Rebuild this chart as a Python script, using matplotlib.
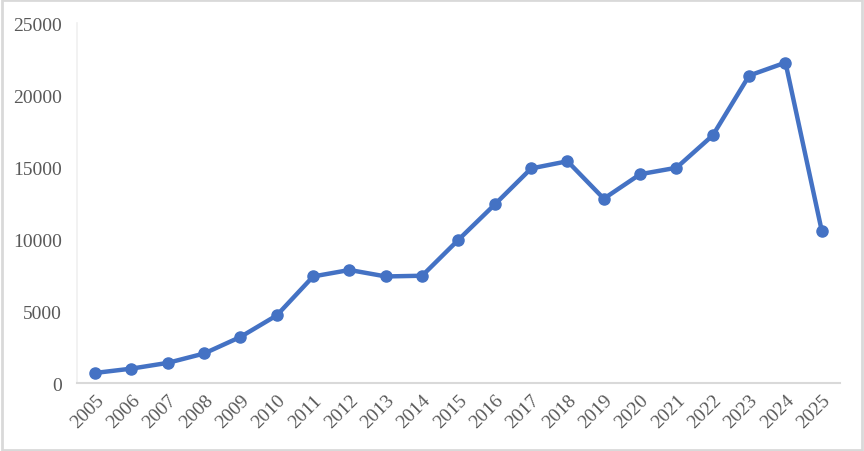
import matplotlib
matplotlib.use('Agg')
import matplotlib.pyplot as plt
from matplotlib.patches import Rectangle

years = [str(y) for y in range(2005, 2026)]
counts = [700, 1000, 1400, 2050, 3200, 4700, 7400, 7850, 7400, 7450,
          9950, 12400, 14900, 15400, 12800, 14500, 14950, 17200, 21350, 22250, 10550]
yticks = [0, 5000, 10000, 15000, 20000, 25000]

plt.rcParams['font.family'] = ['Liberation Serif', 'DejaVu Serif']

fig = plt.figure(figsize=(8.64, 4.52), dpi=100)
ax = fig.add_axes([0.0891, 0.1504, 0.8831, 0.7965])

x = list(range(len(years)))
ax.plot(x, counts, color='#4472C4', linewidth=3.2, marker='o', markersize=8,
        solid_capstyle='round', solid_joinstyle='round')

ax.set_xlim(-0.5, len(years) - 0.5)
ax.set_ylim(0, 25000)
ax.set_yticks(yticks)
ax.set_yticklabels([str(v) for v in yticks])
ax.set_xticks(x)
ax.set_xticklabels(years, rotation=45, ha='right', rotation_mode='anchor')

ax.tick_params(axis='y', length=0, pad=11, labelsize=14, labelcolor='#595959')
ax.tick_params(axis='x', length=0, pad=6, labelsize=14, labelcolor='#595959')

for s in ['top', 'right']:
    ax.spines[s].set_visible(False)
ax.spines['left'].set_color('#f0f0f0')
ax.spines['left'].set_linewidth(1.2)
ax.spines['bottom'].set_color('#d9d9d9')
ax.spines['bottom'].set_linewidth(1.5)

fig.patches.append(Rectangle((0.002, 0.003), 0.996, 0.994, transform=fig.transFigure,
                             fill=False, edgecolor='#d9d9d9', linewidth=2))

fig.savefig('out.png', dpi=100)
